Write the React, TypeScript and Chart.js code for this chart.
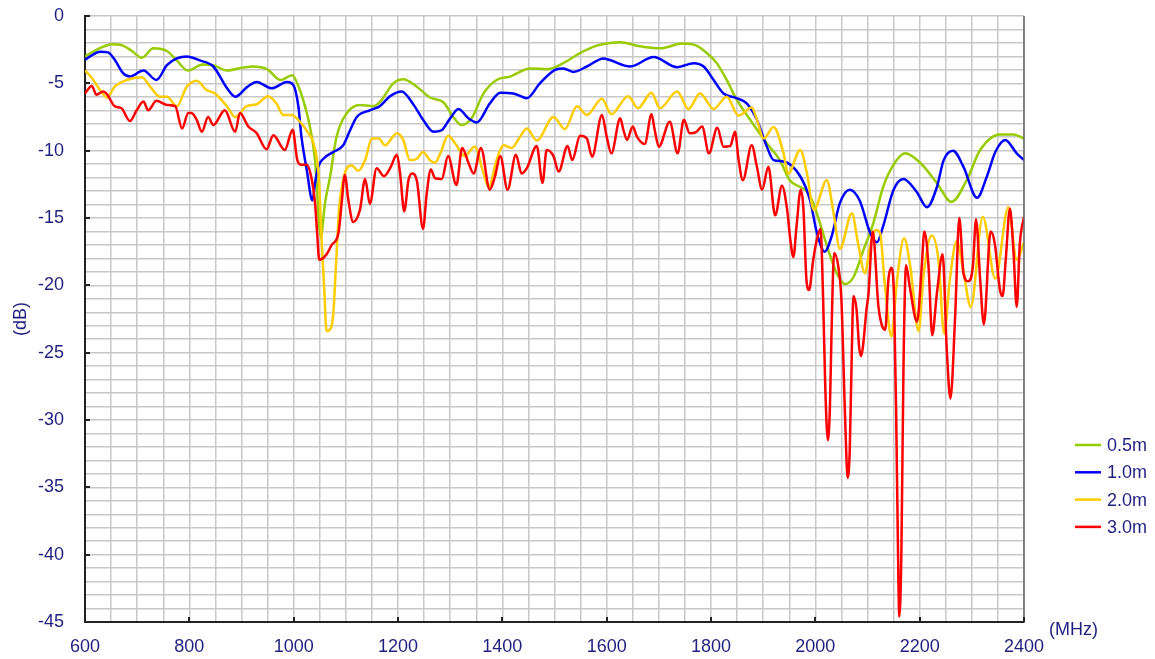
import React, { useEffect, useRef } from 'react';
import { Chart, registerables } from 'chart.js';

Chart.register(...registerables);

// ---------- data ----------
const SERIES_NAMES = ['0.5m', '1.0m', '2.0m', '3.0m'];
const SERIES_COLORS = ['#99CC00', '#0000FF', '#FFCC00', '#FF0000'];

const X_TICK_LABELS = [600, 800, 1000, 1200, 1400, 1600, 1800, 2000, 2200, 2400];
const Y_TICK_LABELS = [0, -5, -10, -15, -20, -25, -30, -35, -40, -45];

const F_05 = [600, 623, 652, 673, 690, 709, 731, 757, 776, 797, 826, 846, 872, 900, 922, 949, 975, 997, 1010, 1018, 1031, 1041, 1052, 1060, 1070, 1082, 1102, 1127, 1153, 1165, 1191, 1210, 1236, 1261, 1287, 1306, 1322, 1341, 1364, 1389, 1415, 1453, 1485, 1517, 1549, 1581, 1606, 1626, 1664, 1702, 1746, 1772, 1792, 1811, 1830, 1849, 1875, 1907, 1932, 1951, 1971, 1983, 1996, 2009, 2025, 2041, 2057, 2073, 2092, 2111, 2130, 2149, 2172, 2201, 2233, 2261, 2290, 2316, 2354, 2380, 2400];
const DB_05 = [-3.0, -2.5, -2.1, -2.2, -2.6, -3.1, -2.4, -2.6, -3.3, -4.05, -3.6, -3.65, -4.05, -3.85, -3.75, -3.95, -4.75, -4.4, -5.3, -6.2, -8.2, -10.7, -16.4, -13.9, -11.9, -9.0, -7.2, -6.6, -6.7, -6.4, -5.0, -4.7, -5.25, -6.05, -6.4, -7.5, -8.1, -7.6, -5.75, -4.75, -4.5, -3.9, -3.95, -3.5, -2.75, -2.2, -2.0, -1.95, -2.25, -2.4, -2.05, -2.2, -2.75, -3.5, -4.75, -6.2, -7.7, -9.45, -10.7, -12.2, -12.7, -13.0, -13.9, -15.4, -17.4, -19.1, -19.9, -19.4, -17.4, -15.4, -12.7, -11.1, -10.2, -10.9, -12.4, -13.8, -12.2, -9.95, -8.8, -8.8, -9.1];

const F_10 = [600, 610, 629, 644, 657, 673, 686, 712, 737, 757, 776, 795, 820, 846, 872, 888, 910, 929, 958, 987, 999, 1009, 1015, 1025, 1036, 1041, 1047, 1057, 1076, 1095, 1108, 1121, 1146, 1165, 1185, 1207, 1230, 1248, 1268, 1283, 1300, 1316, 1335, 1351, 1376, 1396, 1421, 1447, 1472, 1504, 1517, 1536, 1562, 1594, 1606, 1645, 1690, 1735, 1767, 1786, 1805, 1824, 1849, 1869, 1888, 1907, 1920, 1939, 1971, 1990, 2003, 2018, 2031, 2047, 2066, 2085, 2105, 2118, 2130, 2150, 2169, 2194, 2214, 2233, 2246, 2264, 2284, 2310, 2329, 2345, 2364, 2386, 2400];
const DB_10 = [-3.25, -3.0, -2.65, -2.7, -3.25, -4.25, -4.5, -4.05, -4.75, -3.65, -3.15, -3.0, -3.3, -3.75, -5.35, -6.0, -5.3, -4.9, -5.37, -4.9, -5.1, -6.7, -9.0, -11.4, -13.7, -12.4, -11.2, -10.6, -10.1, -9.6, -8.5, -7.5, -7.0, -6.7, -5.95, -5.6, -6.6, -7.7, -8.6, -8.5, -7.6, -6.9, -7.6, -7.9, -6.5, -5.7, -5.75, -6.1, -5.0, -3.95, -3.9, -4.15, -3.75, -3.15, -3.27, -3.75, -3.05, -3.8, -3.5, -3.75, -4.75, -5.75, -6.1, -6.5, -7.7, -9.7, -10.7, -10.8, -11.9, -13.7, -16.1, -17.5, -16.4, -13.9, -12.9, -13.7, -16.1, -16.8, -15.6, -12.9, -12.1, -13.05, -14.2, -12.7, -10.7, -10.0, -11.2, -13.5, -11.9, -10.1, -9.2, -10.2, -10.7];

const F_20 = [600, 613, 629, 642, 657, 680, 709, 725, 744, 757, 776, 795, 814, 833, 849, 872, 888, 910, 929, 951, 967, 980, 996, 1012, 1028, 1038, 1048, 1054, 1059, 1063, 1071, 1076, 1081, 1087, 1098, 1111, 1124, 1137, 1150, 1163, 1175, 1198, 1210, 1223, 1236, 1248, 1261, 1271, 1281, 1296, 1312, 1328, 1347, 1364, 1374, 1389, 1402, 1418, 1434, 1447, 1466, 1498, 1520, 1543, 1562, 1591, 1609, 1641, 1660, 1686, 1702, 1735, 1757, 1779, 1805, 1830, 1853, 1878, 1888, 1901, 1920, 1939, 1948, 1971, 1984, 1997, 2022, 2035, 2047, 2070, 2082, 2095, 2105, 2116, 2124, 2133, 2146, 2156, 2170, 2182, 2198, 2207, 2223, 2236, 2247, 2258, 2271, 2284, 2298, 2321, 2345, 2370, 2386, 2400];
const DB_20 = [-4.05, -4.6, -5.5, -6.05, -5.25, -4.75, -4.55, -5.25, -6.0, -6.0, -6.7, -5.25, -4.8, -5.5, -5.75, -6.7, -7.5, -6.7, -6.55, -5.95, -6.5, -7.35, -7.35, -7.85, -8.7, -9.45, -11.9, -16.9, -20.6, -23.4, -23.2, -22.1, -18.6, -14.4, -11.7, -11.1, -11.5, -10.7, -9.1, -9.1, -9.6, -8.7, -9.2, -10.7, -10.6, -10.1, -10.7, -10.9, -10.2, -8.9, -9.6, -10.4, -9.7, -11.7, -12.7, -10.7, -9.6, -9.8, -8.96, -8.35, -9.25, -7.5, -8.4, -6.7, -7.35, -6.15, -7.3, -5.95, -6.85, -5.7, -6.85, -5.6, -6.9, -5.75, -6.9, -6.0, -7.4, -6.8, -7.7, -9.1, -8.25, -10.2, -11.7, -9.95, -11.7, -14.4, -12.2, -14.65, -17.3, -14.65, -16.9, -19.1, -17.1, -15.9, -16.1, -19.85, -23.8, -19.85, -16.5, -18.6, -23.4, -19.4, -16.3, -18.1, -23.6, -19.5, -16.7, -19.0, -21.6, -14.9, -19.5, -14.2, -18.1, -16.8];

const F_30 = [600, 613, 622, 635, 642, 657, 670, 686, 699, 712, 721, 737, 757, 773, 786, 798, 804, 814, 824, 836, 846, 868, 888, 897, 913, 929, 948, 961, 983, 998, 1007, 1015, 1025, 1035, 1041, 1045, 1049, 1063, 1073, 1086, 1092, 1098, 1105, 1114, 1127, 1137, 1146, 1159, 1173, 1185, 1198, 1204, 1212, 1220, 1227, 1236, 1248, 1255, 1263, 1271, 1284, 1296, 1312, 1323, 1335, 1345, 1359, 1376, 1386, 1396, 1410, 1426, 1437, 1447, 1466, 1477, 1485, 1498, 1508, 1525, 1534, 1549, 1562, 1572, 1591, 1600, 1609, 1626, 1632, 1639, 1650, 1658, 1673, 1686, 1692, 1700, 1721, 1736, 1748, 1759, 1772, 1783, 1796, 1812, 1824, 1837, 1846, 1853, 1861, 1878, 1888, 1898, 1910, 1923, 1936, 1946, 1952, 1958, 1964, 1972, 1977, 1983, 1988, 1996, 2003, 2010, 2015, 2019, 2024, 2028, 2031, 2036, 2044, 2050, 2057, 2062, 2066, 2070, 2073, 2079, 2084, 2088, 2092, 2098, 2102, 2110, 2121, 2127, 2134, 2140, 2146, 2151, 2155, 2158, 2161, 2165, 2169, 2174, 2181, 2195, 2204, 2209, 2217, 2224, 2233, 2244, 2252, 2259, 2268, 2276, 2284, 2293, 2302, 2308, 2316, 2323, 2336, 2344, 2354, 2359, 2365, 2373, 2380, 2386, 2392, 2400];
const DB_30 = [-5.75, -5.2, -5.85, -5.6, -5.8, -6.7, -6.85, -7.8, -7.0, -6.35, -7.0, -6.3, -6.6, -6.7, -8.35, -7.2, -7.2, -7.7, -8.6, -7.5, -8.1, -7.0, -8.6, -7.2, -8.2, -8.7, -9.9, -8.85, -9.95, -8.45, -10.7, -11.05, -11.05, -12.2, -13.9, -16.1, -18.1, -17.7, -17.0, -16.1, -13.9, -11.8, -13.7, -15.3, -14.4, -12.1, -13.95, -11.3, -11.9, -11.3, -10.3, -11.7, -14.5, -12.2, -11.7, -12.2, -15.8, -13.2, -11.4, -12.05, -12.1, -10.4, -12.55, -9.8, -10.9, -11.7, -9.8, -12.9, -11.9, -10.4, -12.9, -10.3, -11.7, -11.3, -9.65, -12.4, -9.95, -10.4, -11.55, -9.65, -10.7, -8.9, -9.1, -10.45, -7.35, -8.95, -10.2, -7.6, -8.45, -9.2, -8.2, -8.95, -9.5, -7.3, -8.45, -9.7, -7.85, -10.2, -7.7, -8.7, -8.6, -8.2, -10.2, -8.3, -9.7, -9.65, -8.6, -10.7, -12.2, -9.6, -11.2, -12.9, -11.2, -14.8, -12.6, -14.4, -16.6, -17.9, -15.6, -12.9, -14.2, -19.6, -20.35, -18.1, -16.6, -15.8, -21.1, -27.5, -31.5, -29.0, -23.6, -17.6, -18.6, -21.1, -29.75, -34.3, -32.2, -24.8, -20.8, -21.8, -24.6, -25.25, -24.3, -21.8, -20.6, -16.0, -21.6, -22.9, -23.3, -19.6, -18.7, -21.1, -29.75, -38.4, -44.6, -39.7, -26.0, -18.5, -20.1, -22.7, -18.6, -16.0, -18.6, -23.7, -20.6, -17.7, -24.8, -28.4, -22.3, -15.0, -19.1, -19.7, -18.6, -15.1, -19.6, -22.9, -16.0, -16.9, -20.35, -20.8, -18.1, -14.3, -17.6, -21.6, -16.9, -14.9];

const SERIES_F = [F_05, F_10, F_20, F_30];
const SERIES_DB = [DB_05, DB_10, DB_20, DB_30];

// ---------- styling ----------
const TEXT_COLOR = '#1F1F7F';
const FONT_FAMILY = "'Liberation Sans', Arial, sans-serif";
const FONT_SIZE = 18;

const PLOT_LEFT = 85;
const PLOT_RIGHT_PAD = 131;
const PLOT_TOP = 16;
const X_AXIS_HEIGHT = 37;

const extrasPlugin = {
  id: 'extras',
  afterDraw(chart: any) {
    const { ctx, chartArea, scales } = chart;
    const { left, right, top, bottom } = chartArea;
    const xs = scales.x;
    const ys = scales.y;
    ctx.save();
    // right border
    ctx.strokeStyle = '#666666';
    ctx.lineWidth = 1.5;
    ctx.beginPath();
    ctx.moveTo(right, top);
    ctx.lineTo(right, bottom);
    ctx.stroke();
    // inward major tick marks
    ctx.strokeStyle = '#222222';
    ctx.lineWidth = 2;
    X_TICK_LABELS.forEach((v) => {
      const px = Math.round(xs.getPixelForValue(v));
      ctx.beginPath();
      ctx.moveTo(px, bottom);
      ctx.lineTo(px, bottom - 5);
      ctx.stroke();
    });
    Y_TICK_LABELS.forEach((v) => {
      const py = Math.round(ys.getPixelForValue(v));
      ctx.beginPath();
      ctx.moveTo(left, py);
      ctx.lineTo(left + 5, py);
      ctx.stroke();
    });
    // legend
    ctx.font = `${FONT_SIZE}px ${FONT_FAMILY}`;
    ctx.textBaseline = 'middle';
    ctx.textAlign = 'left';
    SERIES_NAMES.forEach((name, i) => {
      const y = 445 + i * 27.3;
      ctx.strokeStyle = SERIES_COLORS[i];
      ctx.lineWidth = 2.5;
      ctx.beginPath();
      ctx.moveTo(1075, y);
      ctx.lineTo(1101, y);
      ctx.stroke();
      ctx.fillStyle = TEXT_COLOR;
      ctx.fillText(name, 1107, y + 1);
    });
    // x unit
    ctx.fillStyle = TEXT_COLOR;
    ctx.fillText('(MHz)', 1049, 630);
    ctx.restore();
  },
};

export default function App() {
  const canvasRef = useRef<HTMLCanvasElement | null>(null);

  useEffect(() => {
    const canvas = canvasRef.current;
    if (!canvas) return;
    const datasets = SERIES_NAMES.map((name, i) => ({
      label: name,
      data: SERIES_F[i].map((f, j) => ({ x: f, y: SERIES_DB[i][j] })),
      borderColor: SERIES_COLORS[i],
      backgroundColor: SERIES_COLORS[i],
      borderWidth: 2.5,
      pointRadius: 0,
      pointHoverRadius: 0,
      fill: false,
      cubicInterpolationMode: 'monotone' as const,
      order: SERIES_NAMES.length - 1 - i,
    }));

    const chart = new Chart(canvas, {
      type: 'line',
      data: { datasets },
      plugins: [extrasPlugin],
      options: {
        responsive: false,
        animation: false,
        devicePixelRatio: 1,
        layout: { padding: { left: 0, top: PLOT_TOP, right: PLOT_RIGHT_PAD, bottom: 0 } },
        plugins: {
          legend: { display: false },
          tooltip: { enabled: false },
        },
        scales: {
          x: {
            type: 'linear',
            min: 600,
            max: 2400,
            afterFit: (scale: any) => {
              scale.height = X_AXIS_HEIGHT;
              scale.paddingLeft = 0;
              scale.paddingRight = 0;
              scale.paddingTop = 0;
              scale.paddingBottom = 0;
            },
            grid: { color: '#C8C8C8', lineWidth: 1.5, drawTicks: false },
            border: { color: '#222222', width: 2 },
            ticks: {
              stepSize: 50,
              autoSkip: false,
              maxRotation: 0,
              padding: 14,
              color: TEXT_COLOR,
              font: { family: FONT_FAMILY, size: FONT_SIZE },
              callback: (v: any) => (X_TICK_LABELS.includes(Number(v)) ? String(v) : ''),
            },
          },
          y: {
            type: 'linear',
            min: -45,
            max: 0,
            afterFit: (scale: any) => {
              scale.width = PLOT_LEFT;
              scale.paddingLeft = 0;
              scale.paddingRight = 0;
              scale.paddingTop = 0;
              scale.paddingBottom = 0;
            },
            grid: { color: '#C8C8C8', lineWidth: 1.5, drawTicks: false },
            border: { color: '#222222', width: 2 },
            title: {
              display: true,
              text: '(dB)',
              color: TEXT_COLOR,
              font: { family: FONT_FAMILY, size: FONT_SIZE },
              padding: { top: 10, bottom: 0 },
            },
            ticks: {
              stepSize: 1,
              autoSkip: false,
              padding: 21,
              color: TEXT_COLOR,
              font: { family: FONT_FAMILY, size: FONT_SIZE },
              callback: (v: any) => (Y_TICK_LABELS.includes(Number(v)) ? String(v) : ''),
            },
          },
        },
      },
    });
    return () => chart.destroy();
  }, []);

  return (
    <div style={{ position: 'fixed', left: 0, top: 0, width: 1155, height: 659, background: '#FFFFFF' }}>
      <canvas ref={canvasRef} width={1155} height={659} style={{ display: 'block' }} />
    </div>
  );
}
